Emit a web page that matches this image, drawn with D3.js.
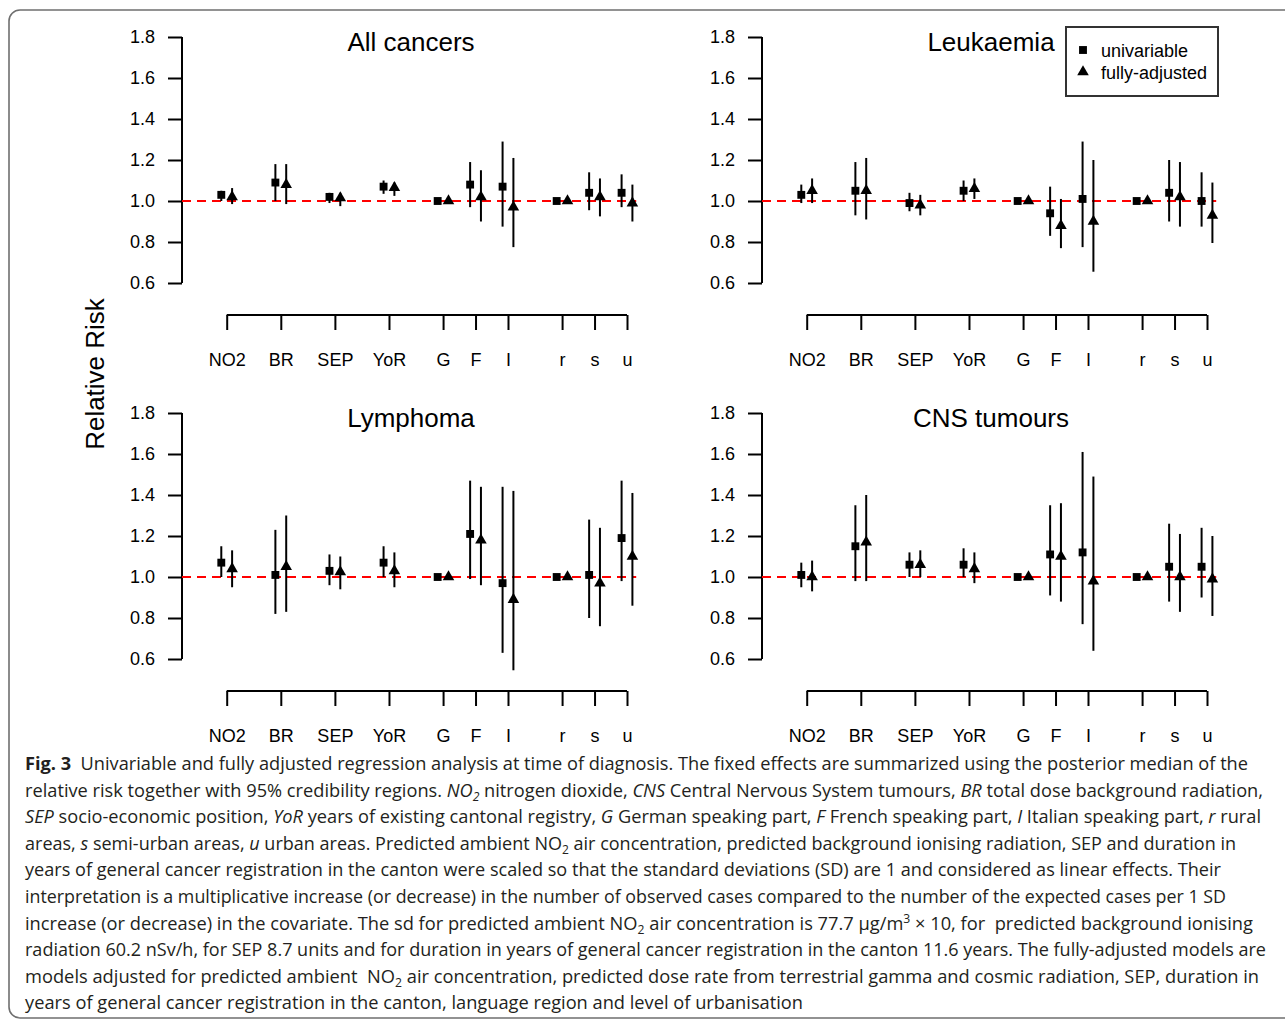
<!DOCTYPE html>
<html>
<head>
<meta charset="utf-8">
<script src="https://cdn.jsdelivr.net/npm/d3@7"></script>
<style>
  body { margin: 0; background: #fff; }
  svg text { font-family: "Liberation Sans", Arial, sans-serif; }
</style>
</head>
<body>
<div id="chart"></div>
<script>
// covariates on the x axis and where they sit
var covariates = ["NO2", "BR", "SEP", "YoR", "G", "F", "I", "r", "s", "u"];
var positions  = [1, 2, 3, 4, 5, 5.6, 6.2, 7.2, 7.8, 8.4];
var yTicks = [0.6, 0.8, 1.0, 1.2, 1.4, 1.6, 1.8];
var panelTitles = ["All cancers", "Leukaemia", "Lymphoma", "CNS tumours"];

// [median, lower, upper] per covariate; null bounds = reference category
var allUni = [[1.03,1.00,1.05],[1.09,1.00,1.18],[1.02,0.99,1.04],[1.07,1.035,1.10],[1,null,null],
              [1.08,0.97,1.19],[1.07,0.875,1.29],[1,null,null],[1.04,0.955,1.14],[1.04,0.97,1.13]];
var allAdj = [[1.02,0.985,1.063],[1.08,0.985,1.18],[1.015,0.975,1.04],[1.065,1.025,1.09],[1,null,null],
              [1.02,0.90,1.15],[0.97,0.775,1.21],[1,null,null],[1.02,0.925,1.11],[0.99,0.90,1.08]];
var leukUni = [[1.03,0.99,1.08],[1.05,0.93,1.19],[0.99,0.95,1.04],[1.05,1.00,1.10],[1,null,null],
               [0.94,0.83,1.07],[1.01,0.775,1.29],[1,null,null],[1.04,0.90,1.20],[1.00,0.875,1.14]];
var leukAdj = [[1.05,0.99,1.11],[1.05,0.91,1.21],[0.98,0.93,1.03],[1.06,1.01,1.11],[1,null,null],
               [0.88,0.77,1.01],[0.90,0.655,1.20],[1,null,null],[1.02,0.875,1.19],[0.93,0.795,1.09]];
var lymphUni = [[1.07,1.00,1.15],[1.01,0.82,1.23],[1.03,0.96,1.11],[1.07,1.00,1.15],[1,null,null],
                [1.21,0.99,1.47],[0.97,0.63,1.44],[1,null,null],[1.01,0.80,1.28],[1.19,0.98,1.47]];
var lymphAdj = [[1.04,0.95,1.13],[1.05,0.83,1.30],[1.025,0.94,1.10],[1.03,0.95,1.12],[1,null,null],
                [1.18,0.96,1.44],[0.89,0.545,1.42],[1,null,null],[0.97,0.76,1.24],[1.10,0.86,1.41]];
var cnsUni = [[1.01,0.95,1.07],[1.15,0.98,1.35],[1.06,1.00,1.12],[1.06,1.00,1.14],[1,null,null],
              [1.11,0.91,1.35],[1.12,0.77,1.61],[1,null,null],[1.05,0.88,1.26],[1.05,0.90,1.24]];
var cnsAdj = [[1.00,0.93,1.08],[1.17,0.98,1.40],[1.06,1.00,1.13],[1.04,0.97,1.12],[1,null,null],
              [1.10,0.88,1.36],[0.98,0.64,1.49],[1,null,null],[1.00,0.83,1.21],[0.99,0.81,1.20]];

var uniSets = [allUni, leukUni, lymphUni, cnsUni];
var adjSets = [allAdj, leukAdj, lymphAdj, cnsAdj];

var width = 1285, height = 1023;
var svg = d3.select("#chart").append("svg")
    .attr("width", width)
    .attr("height", height);

// rounded frame of the figure
svg.append("rect")
    .attr("x", 9).attr("y", 10)
    .attr("width", 1300).attr("height", 1008)
    .attr("rx", 11)
    .attr("fill", "none")
    .attr("stroke", "#6f6f6f")
    .attr("stroke-width", 1.6);

var x = d3.scaleLinear().domain([1, 8.4]).range([226.7, 627]);
var y = d3.scaleLinear().domain([0.6, 1.8]).range([283, 37]);
var offset = 0.1; // horizontal shift of the two estimates around the tick

var colShift = [0, 580], rowShift = [0, 376];
var squareSize = 62, triangleSize = 58;

panelTitles.forEach(function(title, i) {
    var g = svg.append("g")
        .attr("transform", "translate(" + colShift[i % 2] + "," + rowShift[Math.floor(i / 2)] + ")");

    // y axis
    var yAxis = g.append("g")
        .attr("transform", "translate(182,0)")
        .call(d3.axisLeft(y).tickValues(yTicks).tickFormat(d3.format(".1f")).tickSize(14).tickPadding(13));
    yAxis.select(".domain").attr("d", "M0," + y(0.6) + "V" + y(1.8));
    yAxis.selectAll("line, path").attr("stroke", "#000").attr("stroke-width", 2);
    yAxis.selectAll("text").attr("font-size", 18).attr("fill", "#000")
        .attr("font-family", "Liberation Sans, Arial, sans-serif");

    // covariate axis below the panel
    var xAxis = g.append("g")
        .attr("transform", "translate(0,315)")
        .call(d3.axisBottom(x).tickValues(positions)
            .tickFormat(function(d, k) { return covariates[k]; })
            .tickSize(15).tickPadding(23).tickSizeOuter(0));
    xAxis.select(".domain").attr("d", "M" + x(1) + ",0H" + x(8.4));
    xAxis.selectAll("line, path").attr("stroke", "#000").attr("stroke-width", 2);
    xAxis.selectAll("text").attr("font-size", 18).attr("fill", "#000")
        .attr("font-family", "Liberation Sans, Arial, sans-serif");

    // reference line at RR = 1
    g.append("line")
        .attr("x1", 182).attr("x2", x(8.57))
        .attr("y1", y(1)).attr("y2", y(1))
        .attr("stroke", "#ff0000")
        .attr("stroke-width", 2)
        .attr("stroke-dasharray", "9,6");

    // panel title
    g.append("text")
        .attr("x", 411).attr("y", 51)
        .attr("text-anchor", "middle")
        .attr("font-size", 26)
        .text(title);

    var series = [
        { data: uniSets[i], dx: -offset, symbol: d3.symbolSquare, size: squareSize },
        { data: adjSets[i], dx: offset, symbol: d3.symbolTriangle, size: triangleSize }
    ];
    series.forEach(function(s) {
        var pts = s.data.map(function(v, k) { return { p: positions[k], m: v[0], lo: v[1], hi: v[2] }; });
        g.selectAll(null)
            .data(pts.filter(function(d) { return d.lo !== null; }))
            .enter().append("line")
            .attr("x1", function(d) { return x(d.p + s.dx); })
            .attr("x2", function(d) { return x(d.p + s.dx); })
            .attr("y1", function(d) { return y(d.lo); })
            .attr("y2", function(d) { return y(d.hi); })
            .attr("stroke", "#000")
            .attr("stroke-width", 2);
        g.selectAll(null)
            .data(pts)
            .enter().append("path")
            .attr("d", d3.symbol().type(s.symbol).size(s.size))
            .attr("transform", function(d) { return "translate(" + x(d.p + s.dx) + "," + y(d.m) + ")"; })
            .attr("fill", "#000");
    });
});

// shared y label
svg.append("text")
    .attr("transform", "translate(104,374) rotate(-90)")
    .attr("text-anchor", "middle")
    .attr("font-size", 26)
    .text("Relative Risk");

// legend in the Leukaemia panel
var legend = svg.append("g").attr("transform", "translate(1066,27)");
legend.append("rect")
    .attr("width", 152).attr("height", 69)
    .attr("fill", "#fff")
    .attr("stroke", "#333")
    .attr("stroke-width", 2);
var legendItems = [
    { label: "univariable", symbol: d3.symbolSquare, size: squareSize },
    { label: "fully-adjusted", symbol: d3.symbolTriangle, size: triangleSize }
];
legendItems.forEach(function(item, k) {
    legend.append("path")
        .attr("d", d3.symbol().type(item.symbol).size(item.size))
        .attr("transform", "translate(17," + (23 + k * 22) + ")");
    legend.append("text")
        .attr("x", 35).attr("y", 23 + k * 22 + 6.5)
        .attr("font-size", 18)
        .text(item.label);
});

// caption, one entry per printed line: [text, style]
var captionLines = [
    [["Fig. 3", "b"], ["  Univariable and fully adjusted regression analysis at time of diagnosis. The fixed effects are summarized using the posterior median of the", ""]],
    [["relative risk together with 95% credibility regions. ", ""], ["NO", "i"], ["2", "isub"], [" nitrogen dioxide, ", ""], ["CNS", "i"], [" Central Nervous System tumours, ", ""], ["BR", "i"], [" total dose background radiation,", ""]],
    [["SEP", "i"], [" socio-economic position, ", ""], ["YoR", "i"], [" years of existing cantonal registry, ", ""], ["G", "i"], [" German speaking part, ", ""], ["F", "i"], [" French speaking part, ", ""], ["I", "i"], [" Italian speaking part, ", ""], ["r", "i"], [" rural", ""]],
    [["areas, ", ""], ["s", "i"], [" semi-urban areas, ", ""], ["u", "i"], [" urban areas. Predicted ambient NO", ""], ["2", "sub"], [" air concentration, predicted background ionising radiation, SEP and duration in", ""]],
    [["years of general cancer registration in the canton were scaled so that the standard deviations (SD) are 1 and considered as linear effects. Their", ""]],
    [["interpretation is a multiplicative increase (or decrease) in the number of observed cases compared to the number of the expected cases per 1 SD", ""]],
    [["increase (or decrease) in the covariate. The sd for predicted ambient NO", ""], ["2", "sub"], [" air concentration is 77.7 \u00b5g/m", ""], ["3", "sup"], [" \u00d7 10, for  predicted background ionising", ""]],
    [["radiation 60.2 nSv/h, for SEP 8.7 units and for duration in years of general cancer registration in the canton 11.6 years. The fully-adjusted models are", ""]],
    [["models adjusted for predicted ambient  NO", ""], ["2", "sub"], [" air concentration, predicted dose rate from terrestrial gamma and cosmic radiation, SEP, duration in", ""]],
    [["years of general cancer registration in the canton, language region and level of urbanisation", ""]]
];
var captionWidths = [1223, 1238, 1236, 1211, 1196, 1201, 1228, 1241, 1234, 778];

captionLines.forEach(function(line, k) {
    var t = svg.append("text")
        .attr("x", 25)
        .attr("y", 770 + k * 26.6)
        .attr("font-size", 18)
        .attr("fill", "#231f20")
        .style("font-family", "'Open Sans', 'Noto Sans', sans-serif")
        .attr("textLength", captionWidths[k])
        .attr("lengthAdjust", "spacingAndGlyphs")
        .attr("xml:space", "preserve");
    line.forEach(function(seg) {
        var ts = t.append("tspan").text(seg[0]);
        if (seg[1] === "b") ts.attr("font-weight", "bold");
        if (seg[1].indexOf("i") === 0) ts.attr("font-style", "italic");
        if (seg[1].indexOf("sub") >= 0) ts.attr("font-size", 12).attr("baseline-shift", "-4");
        if (seg[1] === "sup") ts.attr("font-size", 12).attr("baseline-shift", "7");
    });
});
</script>
</body>
</html>
